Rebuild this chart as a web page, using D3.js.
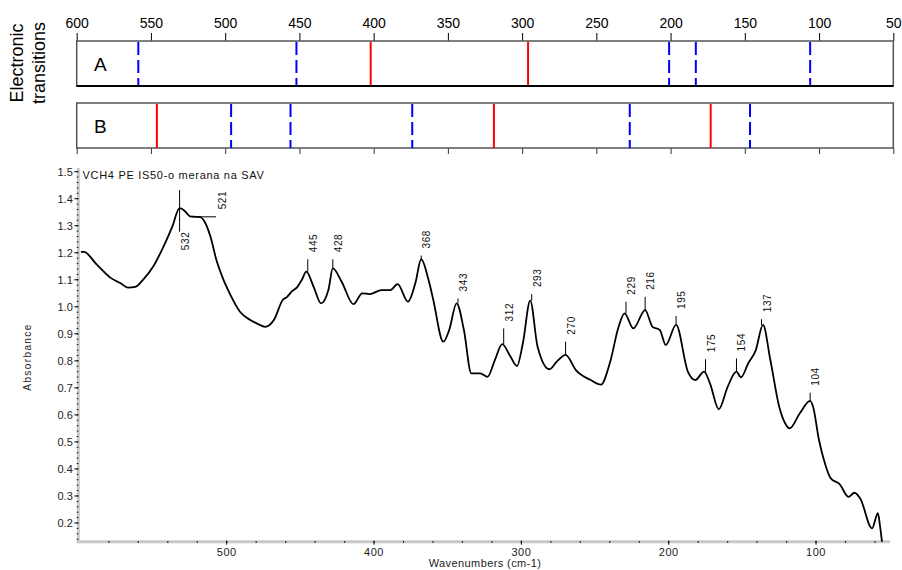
<!DOCTYPE html>
<html>
<head>
<meta charset="utf-8">
<script src="https://cdn.jsdelivr.net/npm/d3@7"></script>
<style>
body { margin: 0; background: #fff; }
svg { font-family: "Liberation Sans", Arial, sans-serif; }
</style>
</head>
<body>
<svg id="chart" width="902" height="570"></svg>
<script>
// top panel: electronic transitions (cm-1)
const topTicks = [600, 550, 500, 450, 400, 350, 300, 250, 200, 150, 100, 50];
const rowARed = [402, 296];
const rowABlue = [558.5, 452, 201, 183, 106];
const rowBRed = [546, 319, 173];
const rowBBlue = [496, 456, 374, 227.5, 146.5];

// spectrum
const wavenumbers = [599, 597, 588, 579, 572, 567, 562, 557, 550, 543, 537, 532, 528, 525, 521, 518, 515, 511, 507, 503,
    498, 491, 484, 479, 474, 468, 462, 459, 456, 452, 449, 446, 441, 436, 431, 428, 422, 414, 408, 403,
    395, 389, 384, 377, 372, 368, 363, 360, 353, 349, 344, 339, 334, 328, 323, 318, 313, 308, 303, 299,
    294, 289, 281, 276, 270, 263, 253, 246, 240, 234, 230, 224, 216, 211, 206, 202, 195, 187, 182, 176,
    172, 166, 160, 154, 151, 146, 141, 136, 131, 125, 121, 118, 111, 104, 102, 98, 94, 90, 84, 78,
    74, 70, 62, 58, 56.5, 55];
const absorbance = [1.203, 1.203, 1.155, 1.108, 1.087, 1.071, 1.074, 1.099, 1.148, 1.222, 1.296, 1.365, 1.352, 1.335, 1.333, 1.332, 1.315, 1.259, 1.173, 1.111,
    1.050, 0.982, 0.951, 0.937, 0.926, 0.951, 1.025, 1.037, 1.056, 1.074, 1.100, 1.130, 1.074, 1.013, 1.062, 1.142, 1.093, 1.010, 1.050, 1.047,
    1.062, 1.062, 1.084, 1.019, 1.087, 1.176, 1.099, 1.031, 0.871, 0.914, 1.013, 0.914, 0.754, 0.754, 0.741, 0.803, 0.862, 0.822, 0.781, 0.865,
    1.023, 0.852, 0.769, 0.797, 0.822, 0.766, 0.729, 0.712, 0.791, 0.926, 0.976, 0.920, 0.988, 0.926, 0.914, 0.859, 0.933, 0.760, 0.729, 0.760,
    0.717, 0.621, 0.704, 0.760, 0.739, 0.791, 0.838, 0.933, 0.803, 0.630, 0.569, 0.550, 0.606, 0.652, 0.630, 0.507, 0.421, 0.365, 0.344, 0.297,
    0.312, 0.291, 0.180, 0.236, 0.186, 0.12];

const yTicks = [0.2, 0.3, 0.4, 0.5, 0.6, 0.7, 0.8, 0.9, 1.0, 1.1, 1.2, 1.3, 1.4, 1.5];
const xTicks = [500, 400, 300, 200, 100];

// peak labels above the curve
const peakLabels = [445, 428, 368, 343, 312, 293, 270, 229, 216, 195, 175, 154, 137, 104];
const peakAbs = [1.130, 1.142, 1.176, 1.013, 0.862, 1.023, 0.822, 0.976, 0.988, 0.933, 0.760, 0.760, 0.933, 0.652];
const leaderTopAbs = [1.176, 1.176, 1.190, 1.031, 0.920, 1.047, 0.871, 1.019, 1.037, 0.966, 0.806, 0.809, 0.954, 0.682];

const svg = d3.select('#chart');
buildTransitions(svg);
buildSpectrum(svg);

function buildTransitions(svg) {
    const x = d3.scaleLinear().domain([600, 50]).range([76.7, 893.3]);

    const top = svg.append('g').attr('transform', 'translate(0,41)')
        .call(d3.axisTop(x).tickValues(topTicks).tickSize(8).tickPadding(5));
    top.select('.domain').remove();
    top.selectAll('.tick line').attr('stroke', '#000');
    top.selectAll('.tick text').attr('font-size', 14).attr('fill', '#000')
        .attr('font-family', '"Liberation Sans", Arial, sans-serif');

    const bottom = svg.append('g').attr('transform', 'translate(0,148)')
        .call(d3.axisBottom(x).tickValues(topTicks).tickSize(6).tickFormat(''));
    bottom.select('.domain').remove();
    bottom.selectAll('.tick line').attr('stroke', '#333');

    const rows = [
        {name: 'A', y0: 41, y1: 86, red: rowARed, blue: rowABlue},
        {name: 'B', y0: 103, y1: 148, red: rowBRed, blue: rowBBlue}
    ];

    rows.forEach(r => {
        const g = svg.append('g');
        g.append('rect')
            .attr('x', x(600)).attr('y', r.y0)
            .attr('width', x(50) - x(600)).attr('height', r.y1 - r.y0)
            .attr('fill', 'none').attr('stroke', '#555').attr('stroke-width', 1.5);
        g.selectAll('line.red').data(r.red).enter().append('line')
            .attr('class', 'red')
            .attr('x1', d => x(d)).attr('x2', d => x(d))
            .attr('y1', r.y0 + 1).attr('y2', r.y1)
            .attr('stroke', '#ff0000').attr('stroke-width', 2);
        g.selectAll('line.blue').data(r.blue).enter().append('line')
            .attr('class', 'blue')
            .attr('x1', d => x(d)).attr('x2', d => x(d))
            .attr('y1', r.y0 + 1).attr('y2', r.y1)
            .attr('stroke', '#0000ff').attr('stroke-width', 2)
            .attr('stroke-dasharray', '13,5');
        g.append('text')
            .attr('x', 94).attr('y', r.y1 - 15.5)
            .attr('font-size', 19)
            .text(r.name);
    });
    // darker base line under row A
    svg.append('line')
        .attr('x1', x(600)).attr('x2', x(50)).attr('y1', 86).attr('y2', 86)
        .attr('stroke', '#000').attr('stroke-width', 2);

    const lab = svg.append('text')
        .attr('transform', 'translate(0,63) rotate(-90)')
        .attr('text-anchor', 'middle')
        .attr('font-size', 18);
    lab.append('tspan').attr('x', 0).attr('y', 23).text('Electronic');
    lab.append('tspan').attr('x', 0).attr('y', 45).text('transitions');
}

function buildSpectrum(svg) {
    const x = d3.scaleLinear().domain([600, 50]).range([79.4, 889.7]);
    const y = d3.scaleLinear().domain([0.2, 1.5]).range([523, 171.7]);
    const axisColor = '#c8c8c8';
    const xAxisY = 541.7, yAxisX = 78.3;

    // axes: thick grey lines with small black tick dots
    svg.append('line')
        .attr('x1', yAxisX).attr('x2', yAxisX).attr('y1', 168).attr('y2', xAxisY + 1.5)
        .attr('stroke', axisColor).attr('stroke-width', 3);
    svg.append('line')
        .attr('x1', yAxisX - 1.5).attr('x2', 890).attr('y1', xAxisY).attr('y2', xAxisY)
        .attr('stroke', axisColor).attr('stroke-width', 3);

    const yMinor = d3.range(0.14, 1.51, 0.02);
    svg.append('g').selectAll('line').data(yMinor).enter().append('line')
        .attr('x1', yAxisX - 1.5).attr('x2', yAxisX)
        .attr('y1', d => y(d)).attr('y2', d => y(d))
        .attr('stroke', '#000').attr('stroke-width', 1);
    svg.append('g').selectAll('line').data(yTicks).enter().append('line')
        .attr('x1', yAxisX - 4).attr('x2', yAxisX)
        .attr('y1', d => y(d)).attr('y2', d => y(d))
        .attr('stroke', '#000').attr('stroke-width', 1);
    svg.append('g').selectAll('text').data(yTicks).enter().append('text')
        .attr('x', yAxisX - 5.5).attr('y', d => y(d)).attr('dy', '0.35em')
        .attr('text-anchor', 'end').attr('font-size', 11).attr('fill', '#222')
        .text(d => d.toFixed(1));

    const xMinor = d3.range(580, 50, -20);
    svg.append('g').selectAll('line').data(xMinor).enter().append('line')
        .attr('x1', d => x(d)).attr('x2', d => x(d))
        .attr('y1', xAxisY - 0.5).attr('y2', xAxisY + 1)
        .attr('stroke', '#000').attr('stroke-width', 1.2);
    svg.append('g').selectAll('line').data(xTicks).enter().append('line')
        .attr('x1', d => x(d)).attr('x2', d => x(d))
        .attr('y1', xAxisY - 1).attr('y2', xAxisY + 3)
        .attr('stroke', '#000').attr('stroke-width', 1);
    svg.append('g').selectAll('text').data(xTicks).enter().append('text')
        .attr('x', d => x(d)).attr('y', 555.5)
        .attr('text-anchor', 'middle').attr('font-size', 11).attr('fill', '#222')
        .attr('letter-spacing', 0.5)
        .text(d => d);

    svg.append('text')
        .attr('x', 485).attr('y', 566.5)
        .attr('text-anchor', 'middle').attr('font-size', 11).attr('fill', '#222')
        .attr('letter-spacing', 0.4)
        .text('Wavenumbers (cm-1)');
    svg.append('text')
        .attr('transform', 'translate(31,357) rotate(-90)')
        .attr('text-anchor', 'middle').attr('font-size', 10).attr('fill', '#222')
        .attr('letter-spacing', 1.4)
        .text('Absorbance');
    svg.append('text')
        .attr('x', 82.5).attr('y', 179)
        .attr('font-size', 11).attr('fill', '#111')
        .attr('letter-spacing', 0.7)
        .text('VCH4 PE IS50-o merana na SAV');

    // spectrum
    svg.append('clipPath').attr('id', 'plot-clip')
        .append('rect').attr('x', yAxisX).attr('y', 160).attr('width', 815).attr('height', xAxisY - 160);
    const points = wavenumbers.map((w, i) => [w, absorbance[i]]);
    const line = d3.line()
        .x(d => x(d[0]))
        .y(d => y(d[1]))
        .curve(d3.curveMonotoneX);
    svg.append('path')
        .datum(points)
        .attr('clip-path', 'url(#plot-clip)')
        .attr('d', line)
        .attr('fill', 'none')
        .attr('stroke', '#000')
        .attr('stroke-width', 1.8)
        .attr('stroke-linejoin', 'round');

    // peak labels with short leaders
    const lg = svg.append('g').attr('font-size', 10).attr('fill', '#111').attr('letter-spacing', 0.6);
    peakLabels.forEach((p, i) => {
        lg.append('line')
            .attr('x1', x(p)).attr('x2', x(p))
            .attr('y1', y(peakAbs[i])).attr('y2', y(leaderTopAbs[i]))
            .attr('stroke', '#000').attr('stroke-width', 1);
        lg.append('text')
            .attr('transform', `translate(${x(p) + 9},${y(leaderTopAbs[i]) - 7}) rotate(-90)`)
            .text(p);
    });

    // 532: vertical marker through the peak, label below
    lg.append('line')
        .attr('x1', x(532)).attr('x2', x(532)).attr('y1', y(1.432)).attr('y2', y(1.278))
        .attr('stroke', '#000').attr('stroke-width', 1);
    lg.append('text')
        .attr('transform', `translate(${x(532) + 9},${y(1.278)}) rotate(-90)`)
        .attr('text-anchor', 'end')
        .text('532');
    // 521: horizontal marker on the shoulder
    lg.append('line')
        .attr('x1', x(520.4)).attr('x2', x(507.3)).attr('y1', y(1.333)).attr('y2', y(1.333))
        .attr('stroke', '#000').attr('stroke-width', 1);
    lg.append('text')
        .attr('transform', `translate(${x(507.3) + 10.5},${y(1.333) - 7.5}) rotate(-90)`)
        .text('521');
}
</script>
</body>
</html>
